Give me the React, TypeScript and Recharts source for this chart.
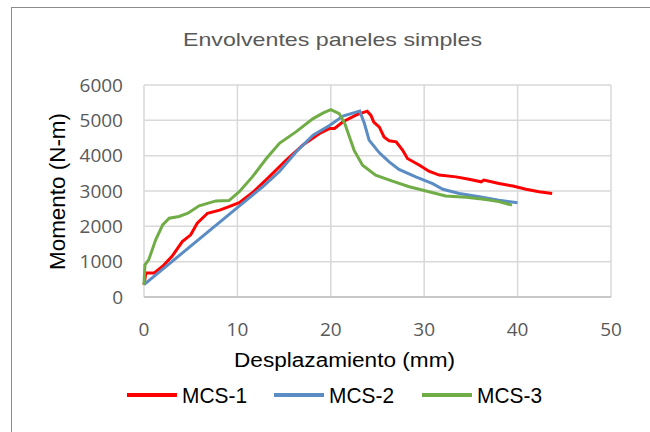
import React from 'react'
import { LineChart, Line, XAxis, YAxis, CartesianGrid } from 'recharts'

// Desplazamiento (mm) / Momento (N-m) por serie
const mcs1X = [0, 0.2, 1.1, 2.0, 3.0, 4.1, 5.0, 5.7, 6.8, 8.1, 9.1, 10.2, 11.6, 13.4, 15.2, 17.0, 18.8, 19.9, 20.4, 21.3, 22.8, 23.9, 24.3, 24.6, 25.2, 25.7, 26.25, 27.0, 27.7, 28.2, 29.5, 30.5, 31.6, 33.4, 34.8, 36.1, 36.4, 38.0, 39.5, 40.9, 42.3, 43.7]
const mcs1Y = [350, 680, 680, 870, 1150, 1570, 1760, 2090, 2370, 2460, 2560, 2670, 2950, 3400, 3870, 4300, 4630, 4770, 4770, 4960, 5160, 5260, 5140, 4950, 4810, 4530, 4420, 4390, 4150, 3920, 3730, 3560, 3450, 3400, 3330, 3260, 3310, 3210, 3140, 3050, 2980, 2930]

const mcs2X = [0, 9.9, 12.7, 14.5, 16.3, 18.1, 19.9, 21.3, 23.1, 23.6, 24.1, 25.2, 26.25, 27.3, 29.1, 30.9, 32.0, 33.75, 35.9, 38.0, 40.0]
const mcs2Y = [350, 2510, 3120, 3550, 4110, 4580, 4860, 5120, 5260, 4910, 4440, 4080, 3825, 3610, 3400, 3210, 3050, 2930, 2840, 2740, 2670]

const mcs3X = [0, 0.1, 0.5, 1.25, 2.0, 2.7, 3.75, 4.7, 5.9, 7.7, 9.1, 10.2, 11.6, 13.1, 14.5, 16.3, 18.1, 19.2, 20.0, 20.9, 21.5, 22.0, 22.5, 23.4, 24.8, 26.6, 28.4, 30.2, 32.3, 34.5, 36.6, 38.0, 39.4]
const mcs3Y = [350, 910, 1050, 1620, 2040, 2230, 2280, 2370, 2580, 2720, 2730, 2980, 3400, 3920, 4350, 4680, 5050, 5210, 5300, 5190, 4910, 4530, 4150, 3730, 3450, 3280, 3120, 3000, 2860, 2820, 2760, 2700, 2600]

const xTicks = [0, 10, 20, 30, 40, 50]
const yTicks = [0, 1000, 2000, 3000, 4000, 5000, 6000]
const seriesNames = ['MCS-1', 'MCS-2', 'MCS-3']
const colors = ['#FF0000', '#5B8CC4', '#70AD47']

const toPoints = (xs: number[], ys: number[]) => xs.map((x, i) => ({ x, y: ys[i] }))

const series = [
  toPoints(mcs1X, mcs1Y),
  toPoints(mcs2X, mcs2Y),
  toPoints(mcs3X, mcs3Y),
]

const tickStyle = { fill: '#595959', fontSize: 19, fontFamily: '"Open Sans", sans-serif' }

// legend item positions (px)
const legendLeft = [127, 274, 422]

export default function App() {
  return (
    <div style={{ position: 'absolute', left: 0, top: 0, width: 650, height: 432, overflow: 'hidden', background: '#fff' }}>
      <div
        style={{
          position: 'absolute',
          left: 11,
          top: 7,
          width: 800,
          height: 600,
          borderLeft: '1.5px solid #8C8C8C',
          borderTop: '1.5px solid #8C8C8C',
        }}
      />
      <div style={{ position: 'absolute', left: 0, top: 0 }}>
        <LineChart width={650} height={432} margin={{ top: 85, right: 39, left: 84, bottom: 105 }}>
          <CartesianGrid stroke="#D9D9D9" strokeWidth={1.5} />
          <XAxis
            type="number"
            dataKey="x"
            domain={[0, 50]}
            ticks={xTicks}
            height={30}
            tickLine={false}
            tickMargin={20}
            axisLine={{ stroke: '#BFBFBF', strokeWidth: 1.5 }}
            tick={tickStyle}
            allowDuplicatedCategory={false}
          />
          <YAxis
            type="number"
            dataKey="y"
            domain={[0, 6000]}
            ticks={yTicks}
            width={60}
            tickLine={false}
            axisLine={false}
            tickMargin={15}
            tick={tickStyle}
          />
          {series.map((d, i) => (
            <Line
              key={seriesNames[i]}
              data={d}
              dataKey="y"
              name={seriesNames[i]}
              type="linear"
              stroke={colors[i]}
              strokeWidth={3}
              dot={false}
              isAnimationActive={false}
            />
          ))}
        </LineChart>
      </div>
      <svg width={650} height={432} style={{ position: 'absolute', left: 0, top: 0, pointerEvents: 'none' }}>
        <text
          x={183}
          y={46}
          textLength={299}
          lengthAdjust="spacingAndGlyphs"
          fill="#595959"
          fontSize={19}
          fontFamily='"Liberation Sans", Arial, sans-serif'
        >
          Envolventes paneles simples
        </text>
        <text
          x={0}
          y={0}
          transform="translate(65,270) rotate(-90)"
          textLength={157}
          lengthAdjust="spacingAndGlyphs"
          fill="#000"
          fontSize={22}
          fontFamily='"Liberation Sans", Arial, sans-serif'
        >
          Momento (N-m)
        </text>
        <text
          x={234}
          y={367}
          textLength={221}
          lengthAdjust="spacingAndGlyphs"
          fill="#000"
          fontSize={20}
          fontFamily='"Liberation Sans", Arial, sans-serif'
        >
          Desplazamiento (mm)
        </text>
        {seriesNames.map((n, i) => (
          <g key={n}>
            <line x1={legendLeft[i]} x2={legendLeft[i] + 50} y1={395} y2={395} stroke={colors[i]} strokeWidth={4} />
            <text
              x={legendLeft[i] + 55}
              y={403}
              textLength={65}
              lengthAdjust="spacingAndGlyphs"
              fill="#000"
              fontSize={22}
              fontFamily='"Liberation Sans", Arial, sans-serif'
            >
              {n}
            </text>
          </g>
        ))}
      </svg>
    </div>
  )
}
